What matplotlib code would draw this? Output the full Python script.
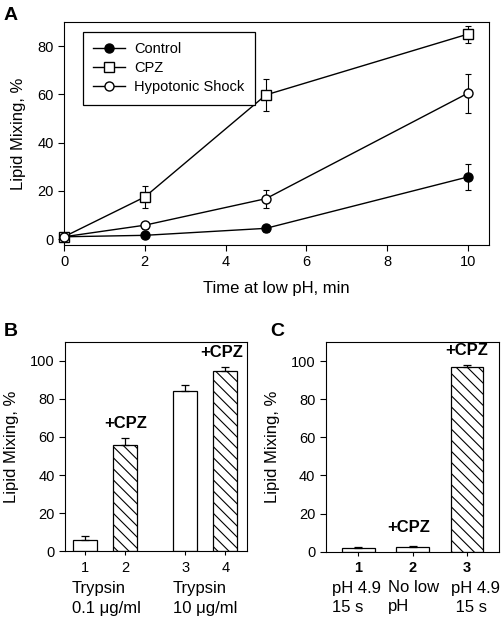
import matplotlib
matplotlib.use("Agg")
import matplotlib.pyplot as plt
import numpy as np

plt.rcParams['font.family'] = ['Liberation Sans', 'DejaVu Sans']
plt.rcParams['hatch.linewidth'] = 0.8

W, H = 504, 621

# Panel A data
time = [0, 2, 5, 10]
control = [1.0, 1.6, 4.5, 25.8]
control_err = [0.5, 0.8, 1.5, 5.5]
cpz = [1.0, 17.5, 59.8, 85.0]
cpz_err = [0.5, 4.5, 6.5, 3.5]
hypo = [1.0, 5.8, 16.8, 60.5]
hypo_err = [0.5, 1.5, 3.7, 8.0]

# Panel B data
b_pos = [1, 2, 3.5, 4.5]
b_vals = [5.8, 55.8, 84.2, 94.6]
b_err = [2.5, 3.8, 3.3, 2.3]
b_hatch = [False, True, False, True]
b_nums = ['1', '2', '3', '4']

# Panel C data
c_pos = [1, 2, 3]
c_vals = [1.9, 2.4, 96.7]
c_err = [0.5, 0.4, 1.4]
c_hatch = [False, False, True]
c_nums = ['1', '2', '3']


def px(x, y):
    return x / W, 1 - y / H


fig = plt.figure(figsize=(W / 100, H / 100), dpi=100)

############################### PANEL A ###############################
axA = fig.add_axes([0.127, 0.6055, 0.843, 0.359])
ms = 6.5
series = [(control, control_err, 'o', 'k', 'Control'),
          (cpz, cpz_err, 's', 'white', 'CPZ'),
          (hypo, hypo_err, 'o', 'white', 'Hypotonic Shock')]
for vals, errs, mk, fc, lab in series:
    axA.errorbar(time, vals, yerr=errs, fmt='none', ecolor='k', capsize=2.5,
                 elinewidth=0.8, capthick=0.8, clip_on=False)
    axA.plot(time, vals, color='k', lw=1, marker=mk, ms=ms, mfc=fc, mec='k',
             label=lab, clip_on=False, zorder=3)
axA.set_xlim(0, 10.52)
axA.set_ylim(-2.4, 90)
axA.set_xticks([0, 2, 4, 6, 8, 10])
axA.set_yticks([0, 20, 40, 60, 80])
axA.tick_params(labelsize=10.5, length=4, width=0.8)
axA.set_xlabel('Time at low pH, min', fontsize=12, labelpad=8)
axA.set_ylabel('Lipid Mixing, %', fontsize=12, labelpad=8)
leg = axA.legend(loc='upper left', bbox_to_anchor=(0.045, 0.955), fontsize=10.5,
                 frameon=True, fancybox=False, edgecolor='k', handlelength=2.2,
                 borderpad=0.7, labelspacing=0.35, handletextpad=0.6,
                 borderaxespad=0, framealpha=1)
leg.get_frame().set_linewidth(0.9)
fig.text(*px(4, 15), 'A', fontsize=14, fontweight='bold', va='center', ha='left')


############################### PANEL B & C ###############################
def bar_panel(ax, pos, vals, err, hatch, nums, xlim, numweight):
    for p, v, e, h in zip(pos, vals, err, hatch):
        ax.bar(p, v, width=0.6, color='white', edgecolor='k', lw=0.9,
               hatch='\\\\\\' if h else None)
        ax.errorbar(p, v, yerr=[[0], [e]], color='k', lw=0.9, capsize=3, capthick=0.9)
    ax.set_xlim(*xlim)
    ax.set_ylim(0, 110)
    ax.set_yticks([0, 20, 40, 60, 80, 100])
    ax.set_xticks(pos)
    ax.set_xticklabels(nums, fontsize=10.5, fontweight=numweight)
    ax.tick_params(axis='y', labelsize=10.5, length=4, width=0.8)
    ax.tick_params(axis='x', length=3, width=0.8, pad=4)
    ax.set_ylabel('Lipid Mixing, %', fontsize=12, labelpad=8)


axB = fig.add_axes([0.129, 0.1122, 0.361, 0.3376])
bar_panel(axB, b_pos, b_vals, b_err, b_hatch, b_nums, (0.49, 5.04), 'normal')
axB.text(2, 63, '+CPZ', fontsize=12, fontweight='bold', ha='center', va='bottom')
axB.text(4.4, 100.5, '+CPZ', fontsize=12, fontweight='bold', ha='center', va='bottom')
fig.text(*px(72, 588), 'Trypsin', fontsize=12, va='center', ha='left')
fig.text(*px(72, 608), '0.1 \u03bcg/ml', fontsize=12, va='center', ha='left')
fig.text(*px(173, 588), 'Trypsin', fontsize=12, va='center', ha='left')
fig.text(*px(173, 608), '10 \u03bcg/ml', fontsize=12, va='center', ha='left')
fig.text(*px(4, 332), 'B', fontsize=14, fontweight='bold', va='center', ha='left')

axC = fig.add_axes([0.6462, 0.1116, 0.3438, 0.3377])
bar_panel(axC, c_pos, c_vals, c_err, c_hatch, c_nums, (0.4, 3.59), 'bold')
axC.text(1.93, 8.5, '+CPZ', fontsize=12, fontweight='bold', ha='center', va='bottom')
axC.text(3.0, 101.5, '+CPZ', fontsize=12, fontweight='bold', ha='center', va='bottom')
for x, l1, l2 in [(332, 'pH 4.9', '15 s'), (388, 'No low', 'pH'), (451, 'pH 4.9', ' 15 s')]:
    fig.text(*px(x, 588), l1, fontsize=12, va='center', ha='left')
    fig.text(*px(x, 607), l2, fontsize=12, va='center', ha='left')
fig.text(*px(270, 332), 'C', fontsize=14, fontweight='bold', va='center', ha='left')

fig.savefig('out.png', dpi=100)
